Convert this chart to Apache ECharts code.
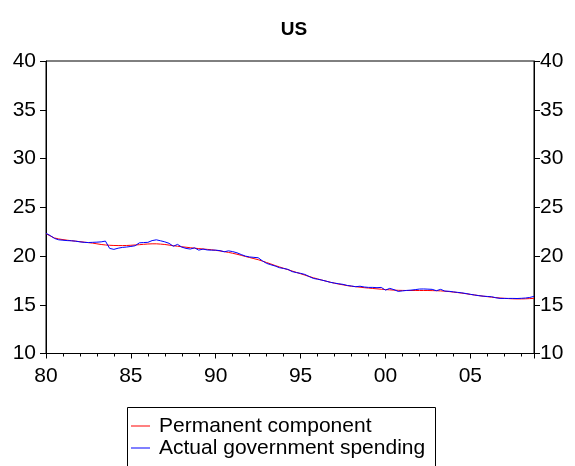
<!DOCTYPE html>
<html><head><meta charset="utf-8">
<script src="https://cdn.jsdelivr.net/npm/echarts@6/dist/echarts.min.js"></script>
<style>html,body{margin:0;padding:0;background:#fff}#c{width:575px;height:466px}</style>
</head><body><div id="c"></div>
<script>
var startYear = 1980;
var seriesNames = ["Permanent component", "Actual government spending"];
var permanent = [
22.30,22.05,21.85,21.75, 21.68,21.62,21.57,21.52, 21.47,21.42,21.37,21.32, 21.25,21.18,21.13,21.10,
21.08,21.07,21.07,21.08, 21.10,21.13,21.16,21.20, 21.23,21.25,21.25,21.22, 21.18,21.12,21.06,21.00,
20.95,20.90,20.85,20.80, 20.76,20.72,20.68,20.64, 20.58,20.52,20.45,20.37, 20.28,20.18,20.07,19.95,
19.84,19.73,19.62,19.48, 19.33,19.18,19.02,18.88, 18.74,18.60,18.46,18.32, 18.18,18.04,17.90,17.77,
17.65,17.53,17.42,17.31, 17.21,17.12,17.04,16.96, 16.90,16.85,16.80,16.75, 16.71,16.67,16.63,16.59,
16.56,16.53,16.50,16.48, 16.47,16.46,16.46,16.46, 16.46,16.46,16.46,16.45, 16.44,16.42,16.39,16.35,
16.30,16.25,16.19,16.13, 16.06,16.00,15.94,15.88, 15.83,15.78,15.73,15.69, 15.66,15.63,15.61,15.60,
15.60,15.61,15.63,15.66
];
var actual = [
22.32,22.10,21.80,21.66, 21.62,21.58,21.56,21.52, 21.45,21.40,21.38,21.40, 21.42,21.45,21.53,20.78,
20.68,20.80,20.88,20.92, 20.98,21.05,21.35,21.38, 21.40,21.58,21.66,21.56, 21.45,21.30,21.00,21.19,
20.91,20.78,20.71,20.84, 20.60,20.71,20.62,20.60, 20.60,20.55,20.43,20.53, 20.45,20.33,20.15,19.99,
19.90,19.86,19.82,19.50, 19.24,19.10,18.97,18.80, 18.72,18.63,18.40,18.30, 18.22,18.11,17.90,17.70,
17.62,17.53,17.42,17.30, 17.22,17.15,17.09,16.98, 16.92,16.85,16.90,16.82, 16.78,16.78,16.75,16.78,
16.50,16.68,16.55,16.37, 16.42,16.47,16.50,16.55, 16.61,16.62,16.60,16.58, 16.44,16.58,16.40,16.38,
16.32,16.27,16.22,16.15, 16.07,16.00,15.93,15.88, 15.85,15.82,15.72,15.65, 15.65,15.65,15.65,15.64,
15.66,15.69,15.75,15.86
];
var yTicks = [10, 15, 20, 25, 30, 35, 40];
var xTickYears = [1980, 1985, 1990, 1995, 2000, 2005];

function pairs(arr){ return arr.map(function(v,i){ return [startYear + i/4, v]; }); }
var xMax = startYear + (actual.length - 1) / 4;

var chart = echarts.init(document.getElementById('c'), null, {renderer:'canvas'});
var font = 'Liberation Sans, Arial, sans-serif';
var yAxisBase = {
  type:'value', min:yTicks[0], max:yTicks[yTicks.length-1], interval:5,
  axisLine:{show:true, lineStyle:{color:'#000', width:1}},
  axisTick:{show:true, inside:false, length:6, lineStyle:{color:'#000'}},
  splitLine:{show:false},
  axisLabel:{color:'#000', fontSize:21, fontFamily:font}
};
chart.setOption({
  animation:false,
  backgroundColor:'#fff',
  title:{text:'US', left:289, top:15, textAlign:'center',
    textStyle:{fontSize:19, fontWeight:'bold', color:'#000', fontFamily:font}},
  grid:{left:46, right:41, top:61, bottom:112.5, show:true, borderColor:'#000', borderWidth:1, backgroundColor:'transparent'},
  xAxis:{type:'value', min:startYear, max:xMax, interval:5,
    axisLine:{show:true, onZero:false, lineStyle:{color:'#000'}},
    axisTick:{show:true, length:5, lineStyle:{color:'#000'}},
    minorTick:{show:true, splitNumber:5, length:3, lineStyle:{color:'#000'}},
    splitLine:{show:false},
    axisLabel:{color:'#000', fontSize:21, fontFamily:font, margin:12,
      showMaxLabel:false,
      formatter:function(v){ return xTickYears.indexOf(v) >= 0 ? String(v % 100).padStart(2,'0') : ''; }}
  },
  yAxis:[
    Object.assign({}, yAxisBase, {position:'left', axisLabel:Object.assign({}, yAxisBase.axisLabel, {margin:10})}),
    Object.assign({}, yAxisBase, {position:'right', axisLabel:Object.assign({}, yAxisBase.axisLabel, {margin:6})})
  ],
  graphic:[{type:'rect', shape:{x:127.5, y:407.5, width:308, height:80},
    style:{fill:'none', stroke:'#000', lineWidth:1}, z:-1}],
  legend:{orient:'vertical', left:131, top:415, borderWidth:0,
    padding:0, itemGap:0, itemWidth:19, itemHeight:1, icon:'rect',
    textStyle:{fontSize:21, color:'#000', fontFamily:font, lineHeight:22, padding:[0,0,0,4]},
    data:seriesNames},
  series:[
    {name:seriesNames[0], type:'line', data:pairs(permanent), showSymbol:false, symbol:'none',
      lineStyle:{color:'#ff0000', width:1}, itemStyle:{color:'#ff0000'}, yAxisIndex:0},
    {name:seriesNames[1], type:'line', data:pairs(actual), showSymbol:false, symbol:'none',
      lineStyle:{color:'#0000ff', width:1}, itemStyle:{color:'#0000ff'}, yAxisIndex:0}
  ]
});
</script></body></html>
